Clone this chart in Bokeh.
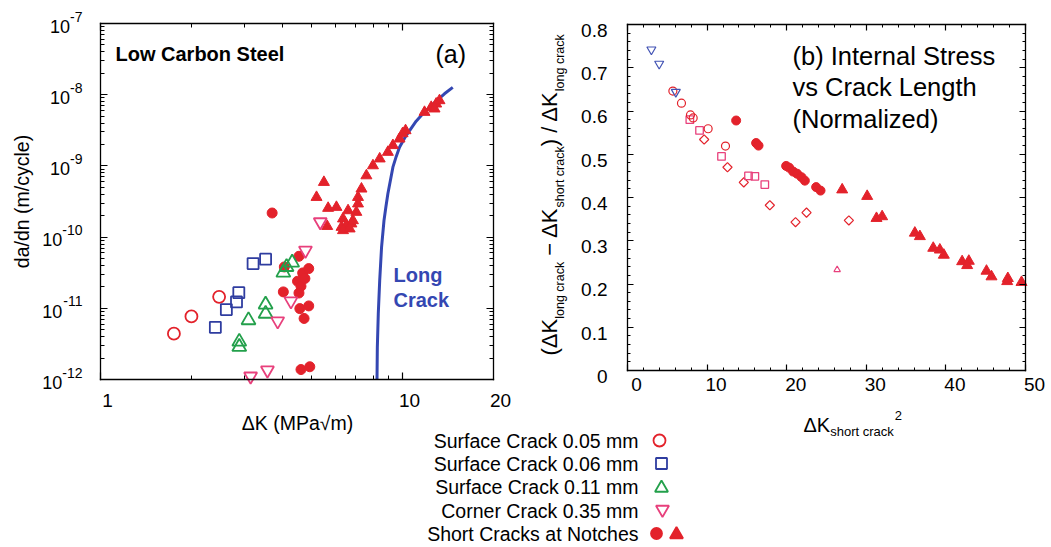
import math
from bokeh.plotting import figure
from bokeh.models import (Label, FixedTicker, LogAxis, LinearAxis, Range1d, LogScale,
                          LinearScale, CustomJSTickFormatter)
from bokeh.embed import file_html
from bokeh.resources import INLINE

# ---------------- data: panel (a)  da/dn vs dK ----------------
a_sc005_dk = [1.75, 2.00, 2.47]
a_sc005_rate = [4.4e-12, 7.7e-12, 1.45e-11]

a_sc006_dk = [2.40, 2.61, 2.82, 2.87, 3.20, 3.52]
a_sc006_rate = [5.4e-12, 9.6e-12, 1.23e-11, 1.66e-11, 4.25e-11, 4.9e-11]

a_sc011_dk = [2.88, 2.88, 3.09, 3.52, 3.52, 4.03, 4.13, 4.31]
a_sc011_rate = [2.87e-12, 3.4e-12, 6.8e-12, 8.4e-12, 1.13e-11, 3.17e-11, 3.81e-11, 4.39e-11]

a_cc035_dk = [3.14, 3.57, 3.86, 4.27, 4.77, 5.34]
a_cc035_rate = [1.11e-12, 1.35e-12, 6.6e-12, 1.26e-11, 6.5e-11, 1.63e-10]

a_notch_circ_dk = [3.70, 4.06, 4.03, 4.54, 4.49, 4.61, 4.54, 4.67, 4.89, 4.57, 4.89, 4.72,
                   4.61, 4.93, 4.75]
a_notch_circ_rate = [2.18e-10, 3.81e-11, 1.70e-11, 5.38e-11, 2.40e-11, 2.04e-11, 1.64e-11,
                     3.14e-11, 3.61e-11, 9.9e-12, 1.08e-11, 7.2e-12, 1.38e-12, 1.51e-12, 2.62e-11]

a_notch_tri_dk = [5.49, 5.19, 5.67, 6.04, 5.63, 6.60, 6.35, 6.28, 6.52, 6.77, 6.85, 6.35, 6.68,
                  7.03, 7.12, 7.12, 7.31, 7.59, 7.98, 8.40, 8.94, 9.29, 9.77, 10.23, 11.82,
                  12.44, 12.92, 13.25, 12.76, 10.0]
a_notch_tri_rate = [5.9e-10, 3.63e-10, 2.55e-10, 2.63e-10, 1.42e-10, 2.36e-10, 1.81e-10,
                    1.38e-10, 1.46e-10, 1.54e-10, 1.71e-10, 1.24e-10, 1.31e-10, 2.24e-10,
                    2.94e-10, 3.63e-10, 4.76e-10, 7.3e-10, 1.01e-9, 1.26e-9, 1.56e-9, 1.94e-9,
                    2.40e-9, 3.14e-9, 5.68e-9, 6.67e-9, 7.44e-9, 8.29e-9, 6.34e-9, 2.85e-9]

a_long_dk = [8.23, 8.25, 8.31, 8.40, 8.52, 8.68, 8.81, 8.94, 9.29, 9.53, 9.77, 10.15, 10.55,
             11.09, 11.67, 12.92, 13.76, 14.66]
a_long_rate = [1.0e-12, 2.84e-12, 8.4e-12, 2.45e-11, 7.2e-11, 1.71e-10, 2.69e-10, 4.06e-10,
               9.6e-10, 1.36e-9, 1.83e-9, 2.45e-9, 3.14e-9, 4.25e-9, 5.40e-9, 8.11e-9,
               1.03e-8, 1.27e-8]

a_x_ticks = [1, 10, 20]
a_x_tick_labels = ["1", "10", "20"]
a_y_exponents = [-12, -11, -10, -9, -8, -7]

# ---------------- data: panel (b)  normalized internal stress ----------------
b_cc_x = [3.0, 3.98, 6.07]
b_cc_y = [0.742, 0.709, 0.644]

b_circ_x = [5.70, 6.78, 7.91, 8.25, 10.13, 12.31]
b_circ_y = [0.646, 0.618, 0.591, 0.584, 0.559, 0.519]

b_sq_x = [7.83, 9.05, 11.81, 15.20, 16.00, 17.25]
b_sq_y = [0.580, 0.555, 0.495, 0.450, 0.449, 0.430]

b_dia_x = [9.63, 12.56, 14.61, 17.88, 21.11, 22.49, 27.81]
b_dia_y = [0.534, 0.470, 0.435, 0.382, 0.343, 0.365, 0.347]

b_tri_x = [26.34]
b_tri_y = [0.233]

b_notch_circ_x = [13.65, 16.16, 16.46, 19.93, 20.31, 20.81, 21.31, 21.86, 22.28, 23.70, 24.25]
b_notch_circ_y = [0.578, 0.526, 0.520, 0.473, 0.469, 0.460, 0.455, 0.447, 0.439, 0.424, 0.416]

b_notch_tri_x = [26.97, 30.11, 31.28, 31.99, 36.10, 36.73, 38.41, 39.24, 39.74, 42.04, 42.88,
                 42.67, 45.10, 45.73, 47.70, 47.78, 49.5]
b_notch_tri_y = [0.418, 0.403, 0.352, 0.356, 0.318, 0.310, 0.283, 0.279, 0.267, 0.252, 0.253,
                 0.243, 0.230, 0.217, 0.206, 0.213, 0.204]

b_x_ticks = [0, 10, 20, 30, 40, 50]
b_y_ticks = [0, 0.1, 0.2, 0.3, 0.4, 0.5, 0.6, 0.7, 0.8]
b_y_tick_labels = ["0", "0.1", "0.2", "0.3", "0.4", "0.5", "0.6", "0.7", "0.8"]

legend_labels = ["Surface Crack 0.05 mm", "Surface Crack 0.06 mm", "Surface Crack 0.11 mm",
                 "Corner Crack 0.35 mm", "Short Cracks at Notches"]

# ---------------- layout (pixels on the page) ----------------
W, H = 1050, 546
A_LEFT, A_RIGHT, A_TOP, A_BOT = 100, 493, 23, 379      # panel (a) box: K 1..20, rate 1e-12..1e-7
B_LEFT, B_RIGHT, B_TOP, B_BOT = 627, 1025, 24, 370     # panel (b) box: x 0..50, y 0..0.8

FONT = "Liberation Sans"
RED = "#E3222B"
BLUE = "#2F3DA0"
GREEN = "#23A04B"
PINK = "#E8407C"
CURVE = "#3447B2"
BBLUE = "#4253B4"

ARIAL = {' ': 278, '(': 333, ')': 333, '/': 278, '\u2212': 584, '\u0394': 668, 'K': 667,
         'a': 556, 'c': 500, 'g': 556, 'h': 556, 'k': 500, 'l': 222, 'n': 556, 'o': 556,
         'r': 333, 's': 500, 't': 278, '-': 333}
MID = 0.3465   # distance (in em) from the text-box middle down to the baseline


def tw(s, size):
    return sum(ARIAL.get(ch, 556) for ch in s) * size / 1000.0


# ranges so that the single full-page frame maps the two panel boxes to their pixel spots
a_dec_x = (A_RIGHT - A_LEFT) / math.log10(20)
a_dec_y = (A_BOT - A_TOP) / 5.0
a_xr = Range1d(10 ** (-A_LEFT / a_dec_x), 10 ** ((W - A_LEFT) / a_dec_x))
a_yr = Range1d(10 ** (-12 - (H - A_BOT) / a_dec_y), 10 ** (-7 + A_TOP / a_dec_y))
b_ux = (B_RIGHT - B_LEFT) / 50.0
b_uy = (B_BOT - B_TOP) / 0.8
b_xr = Range1d(-B_LEFT / b_ux, (W - B_LEFT) / b_ux)
b_yr = Range1d(-(H - B_BOT) / b_uy, 0.8 + B_TOP / b_uy)

p = figure(width=W, height=H, x_range=a_xr, y_range=a_yr, x_axis_type=None, y_axis_type=None,
           min_border=0, output_backend="svg", toolbar_location=None)
p.x_scale = LogScale()
p.y_scale = LogScale()
p.extra_x_ranges = {"b": b_xr}
p.extra_y_ranges = {"b": b_yr}
p.extra_x_scales = {"b": LinearScale()}
p.extra_y_scales = {"b": LinearScale()}
p.outline_line_color = None


def add_axis(cls, side, fixed, bounds, ticks, minor, rn=None, tin=7, mtin=4):
    kw = dict(x_range_name=rn, y_range_name=rn) if rn else {}
    ax = cls(fixed_location=fixed, bounds=bounds,
             ticker=FixedTicker(ticks=ticks, minor_ticks=minor),
             formatter=CustomJSTickFormatter(code="return ''"),
             major_label_text_font_size="0px", major_label_standoff=0,
             major_tick_in=tin, major_tick_out=0, minor_tick_in=mtin, minor_tick_out=0,
             axis_line_color="black", axis_line_width=1.3, axis_line_cap="square",
             major_tick_line_color="black", minor_tick_line_color="black",
             major_tick_line_width=1.2, minor_tick_line_width=1, **kw)
    p.add_layout(ax, side)


# panel (a) box axes (log)
ax_minor = [m for m in range(2, 10)]
ay_major = [10.0 ** e for e in a_y_exponents]
ay_minor = [m * 10.0 ** e for e in a_y_exponents[:-1] for m in range(2, 10)]
add_axis(LogAxis, "below", 1e-12, (1, 20), [1, 10], ax_minor)
add_axis(LogAxis, "above", 1e-7, (1, 20), [1, 10], ax_minor)
add_axis(LogAxis, "left", 1, (1e-12, 1e-7), ay_major, ay_minor)
add_axis(LogAxis, "right", 20, (1e-12, 1e-7), ay_major, ay_minor)

# panel (b) box axes (linear)
bx_minor = list(range(0, 51, 2))
by_minor = [i / 50.0 for i in range(0, 41)]
add_axis(LinearAxis, "below", 0, (0, 50), b_x_ticks, bx_minor, rn="b", tin=6, mtin=3)
add_axis(LinearAxis, "above", 0.8, (0, 50), b_x_ticks, bx_minor, rn="b", tin=6, mtin=3)
add_axis(LinearAxis, "left", 0, (0, 0.8), b_y_ticks, by_minor, rn="b", tin=6, mtin=3)
add_axis(LinearAxis, "right", 50, (0, 0.8), b_y_ticks, by_minor, rn="b", tin=6, mtin=3)


def label(text, x, y, dx=0, dy=0, size=19, color="black", bold=False, align="left",
          angle=0, rn=None):
    # dx, dy locate the text baseline; convert to the text-box middle
    if angle:
        dx -= MID * size
    else:
        dy += MID * size
    kw = dict(x_range_name=rn, y_range_name=rn) if rn else {}
    p.add_layout(Label(x=x, y=y, x_offset=dx, y_offset=dy, text=text, text_font=FONT,
                       text_font_size=f"{size}px",
                       text_font_style="bold" if bold else "normal",
                       text_color=color, text_align=align, text_baseline="middle",
                       angle=angle, **kw))


def at_px(text, px, py, **kw):
    # anchored at panel (a) box corner (1, 1e-12), offset in page pixels
    label(text, 1, 1e-12, dx=px - A_LEFT, dy=A_BOT - py, **kw)


# ---------------- panel (a) marks ----------------
p.line(a_long_dk, a_long_rate, line_color=CURVE, line_width=3)
p.scatter(a_notch_tri_dk, a_notch_tri_rate, marker="triangle", size=11,
          fill_color=RED, line_color=RED)
p.scatter(a_notch_circ_dk, a_notch_circ_rate, marker="circle", size=10,
          fill_color=RED, line_color=RED)
p.scatter(a_sc005_dk, a_sc005_rate, marker="circle", size=12, fill_color=None,
          line_color=RED, line_width=1.8)
p.scatter(a_sc006_dk, a_sc006_rate, marker="square", size=11, fill_color=None,
          line_color=BLUE, line_width=1.8)
p.scatter(a_sc011_dk, a_sc011_rate, marker="triangle", size=14, fill_color=None,
          line_color=GREEN, line_width=1.8)
p.scatter(a_cc035_dk, a_cc035_rate, marker="inverted_triangle", size=13, fill_color=None,
          line_color=PINK, line_width=1.8)

# ---------------- panel (a) texts ----------------
for v, t in zip(a_x_ticks, a_x_tick_labels):
    label(t, v, 1e-12, dx=7, dy=-27.5, size=19, align="center")
for e in a_y_exponents:
    es = str(e)
    ew = tw(es, 14)
    label(es, 1, 10.0 ** e, dx=-18, dy=2, size=14, align="right")
    label("10", 1, 10.0 ** e, dx=-18 - ew, dy=-9, size=18, align="right")

at_px("da/dn (m/cycle)", 28, 201, size=19.5, align="center", angle=math.pi / 2)
at_px("\u0394K (MPa\u221am)", 297, 429, size=19.5, align="center")
at_px("Low Carbon Steel", 115, 60, size=20, bold=True)
at_px("(a)", 435, 62, size=25)
at_px("Long", 393, 281, size=20, bold=True, color=CURVE)
at_px("Crack", 393, 306, size=20, bold=True, color=CURVE)

# ---------------- panel (b) marks ----------------
bk = dict(x_range_name="b", y_range_name="b")
p.scatter(b_notch_tri_x, b_notch_tri_y, marker="triangle", size=11, fill_color=RED,
          line_color=RED, **bk)
p.scatter(b_notch_circ_x, b_notch_circ_y, marker="circle", size=9, fill_color=RED,
          line_color=RED, **bk)
p.scatter(b_dia_x, b_dia_y, marker="square", angle=math.pi / 4, size=6.5, fill_color=None,
          line_color=RED, line_width=1.2, **bk)
p.scatter(b_sq_x, b_sq_y, marker="square", size=7.5, fill_color=None, line_color=PINK,
          line_width=1.3, **bk)
p.scatter(b_circ_x, b_circ_y, marker="circle", size=8, fill_color=None, line_color=RED,
          line_width=1.2, **bk)
p.scatter(b_cc_x, b_cc_y, marker="inverted_triangle", size=9, fill_color=None,
          line_color=BBLUE, line_width=1.2, **bk)
p.scatter(b_tri_x, b_tri_y, marker="triangle", size=6.5, fill_color=None, line_color=PINK,
          line_width=1.1, **bk)

# ---------------- panel (b) texts ----------------
for v in b_x_ticks:
    label(str(v), v, 0, dx=9, dy=-21, size=19, align="center", rn="b")
for v, t in zip(b_y_ticks, b_y_tick_labels):
    label(t, 0, v, dx=-20, dy=-12.5, size=19, align="right", rn="b")

ysegs = [("(\u0394K", 22, 557), ("long crack", 12.5, 564), (" \u2212 \u0394K", 22, 557),
         ("short crack", 12.5, 564), (") / \u0394K", 22, 557), ("long crack", 12.5, 564)]
pos = 355.0
for txt, sz, base in ysegs:
    lead = len(txt) - len(txt.lstrip(" "))
    start = pos - tw(" " * lead, sz)
    at_px(txt.strip(" "), base, start, size=sz, align="left", angle=math.pi / 2)
    pos -= tw(txt, sz)

xpos = 803.0
at_px("\u0394K", xpos, 431, size=20)
xpos += tw("\u0394K", 20)
at_px("short crack", xpos, 436, size=13)
xpos += tw("short crack", 13) + 1
at_px("2", xpos, 420, size=13)

for i, line in enumerate(["(b) Internal Stress", "vs Crack Length", "(Normalized)"]):
    at_px(line, 792, 64 + 31.5 * i, size=25.5)

# ---------------- legend (text right-aligned, symbol on the right) ----------------
leg_base = [447, 470, 493.5, 517, 540]
for t, yb in zip(legend_labels, leg_base):
    at_px(t, 638, yb, size=19.5, align="right")


def bxp(px):
    return (px - B_LEFT) / b_ux


def byp(py):
    return (B_BOT - py) / b_uy


leg_keys = [(659, 440, "circle", 12, RED, None), (661, 463, "square", 11, BLUE, None),
            (661, 487.5, "triangle", 13, GREEN, None),
            (662, 509, "inverted_triangle", 13, PINK, None),
            (656, 533, "circle", 11, RED, RED), (676, 534, "triangle", 13, RED, RED)]
for kx, ky, m, s, c, f in leg_keys:
    p.scatter([bxp(kx)], [byp(ky)], marker=m, size=s, line_color=c, fill_color=f,
              line_width=1.8, **bk)

open("out.html", "w").write(file_html(p, INLINE))
